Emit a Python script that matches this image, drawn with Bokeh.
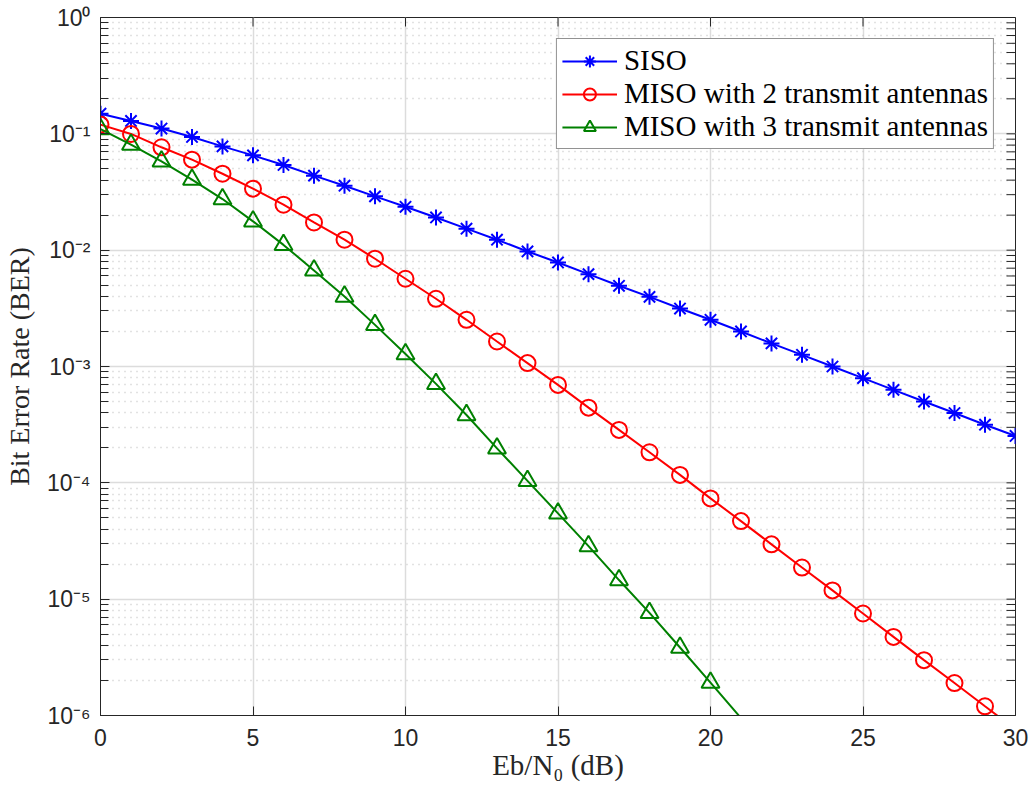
from bokeh.plotting import figure
from bokeh.models import (FixedTicker, Range1d, Legend, LegendItem,
                          ColumnDataSource, CustomJSTickFormatter)
from bokeh.embed import file_html
from bokeh.resources import INLINE

# ---------------- data ----------------
snr_siso = list(range(0, 31))
ber_siso = [0.149, 0.129, 0.111, 0.094, 0.078, 0.0653, 0.054, 0.0437, 0.0358, 0.029,
            0.0236, 0.0191, 0.0153, 0.0123, 0.00975, 0.00784, 0.00622, 0.00494, 0.00397, 0.00315,
            0.00252, 0.0020, 0.00158, 0.00126, 0.0010, 0.000794, 0.00063, 0.0005, 0.000398, 0.000316,
            0.000253]

snr_miso2 = list(range(0, 31))
ber_miso2 = [0.12, 0.0998, 0.0766, 0.060, 0.0454, 0.0338, 0.0246, 0.0173, 0.0123, 0.00844,
             0.00568, 0.00382, 0.00252, 0.00164, 0.00107, 0.000695, 0.000443, 0.000285, 0.000183, 0.000117,
             7.35e-5, 4.69e-5, 2.96e-5, 1.87e-5, 1.19e-5, 7.53e-6, 4.74e-6, 2.99e-6, 1.9e-6, 1.2e-6,
             7.6e-7]

snr_miso3 = list(range(0, 22))
ber_miso3 = [0.110, 0.0807, 0.058, 0.0404, 0.0275, 0.0177, 0.0111, 0.0067, 0.0040, 0.00228,
             0.00128, 0.000709, 0.000383, 0.000198, 0.000104, 5.46e-5, 2.86e-5, 1.46e-5, 7.62e-6, 3.84e-6,
             1.92e-6, 9.5e-7]

labels = ["SISO", "MISO with 2 transmit antennas", "MISO with 3 transmit antennas"]
x_label = "Eb/N₀ (dB)"
y_label = "Bit Error Rate (BER)"
x_ticks = [0, 5, 10, 15, 20, 25, 30]
y_ticks = [1e-6, 1e-5, 1e-4, 1e-3, 1e-2, 1e-1, 1e0]
y_minor = [m * 10.0 ** e for e in range(-6, 0) for m in range(2, 10)]

XMIN, XMAX = 0, 30
YMIN, YMAX = 1e-6, 1.0

AX = "#262626"
SANS = "Liberation Sans"
SERIF = "Liberation Serif"

W, H = 1029, 786
B_LEFT, B_RIGHT, B_TOP, B_BOTTOM = 100, 14, 17, 71
FRAME_W, FRAME_H = W - B_LEFT - B_RIGHT, H - B_TOP - B_BOTTOM

p = figure(width=W, height=H, y_axis_type="log",
           x_range=Range1d(XMIN, XMAX), y_range=Range1d(YMIN, YMAX),
           output_backend="svg", toolbar_location=None,
           min_border_left=B_LEFT, min_border_right=B_RIGHT,
           min_border_top=B_TOP, min_border_bottom=B_BOTTOM)
p.background_fill_color = "white"
p.border_fill_color = "white"
p.outline_line_color = AX
p.outline_line_width = 1

xtick = FixedTicker(ticks=x_ticks, minor_ticks=[])
ytick = FixedTicker(ticks=y_ticks, minor_ticks=y_minor)

fmt = CustomJSTickFormatter(code="""
const e = Math.round(Math.log10(tick));
const sup = {"-":"⁻","0":"⁰","1":"¹","2":"²","3":"³","4":"⁴","5":"⁵","6":"⁶","7":"⁷","8":"⁸","9":"⁹"};
return "10" + String(e).split("").map(c => sup[c]).join("");
""")

p.xaxis.ticker = xtick
p.yaxis.ticker = ytick
p.yaxis.formatter = fmt

for ax in p.axis:
    ax.axis_line_color = AX
    ax.axis_line_width = 1
    ax.major_tick_line_color = AX
    ax.minor_tick_line_color = AX
    ax.major_tick_in = 9
    ax.major_tick_out = 0
    ax.minor_tick_in = 8
    ax.minor_tick_out = 0
    ax.major_label_text_font = SANS
    ax.major_label_text_font_size = "23px"
    ax.major_label_text_color = AX
    ax.axis_label_text_font = SERIF
    ax.axis_label_text_font_style = "normal"
    ax.axis_label_text_color = AX

p.xaxis[0].major_label_standoff = 13
p.xaxis[0].axis_label = x_label
p.xaxis[0].axis_label_text_font_size = "29px"
p.xaxis[0].axis_label_standoff = 0
p.yaxis[0].major_label_standoff = 10
p.yaxis[0].axis_label = y_label
p.yaxis[0].axis_label_text_font_size = "28px"
p.yaxis[0].axis_label_standoff = 9

# tick marks of the box's top and right sides (taken from the tick lists)
tick_dx = 9 * (XMAX - XMIN) / FRAME_W
tick_fy = 10 ** (-9 * 6 / FRAME_H)
p.segment(x0=x_ticks, x1=x_ticks, y0=[YMAX] * len(x_ticks), y1=[YMAX * tick_fy] * len(x_ticks),
          line_color=AX, line_width=1)
right_ticks = y_ticks + y_minor
p.segment(x0=[XMAX] * len(right_ticks), x1=[XMAX - tick_dx] * len(right_ticks),
          y0=right_ticks, y1=right_ticks, line_color=AX, line_width=1)

# grid
p.xgrid.ticker = xtick
p.ygrid.ticker = ytick
p.xgrid.grid_line_color = "#dcdcdc"
p.ygrid.grid_line_color = "#dcdcdc"
p.xgrid.grid_line_width = 1.5
p.ygrid.grid_line_width = 1.5
p.ygrid.minor_grid_line_color = "#c4c4c4"
p.ygrid.minor_grid_line_dash = "1 5"
p.ygrid.minor_grid_line_width = 1.5

# series
series = [
    (snr_siso, ber_siso, "#0000ff", "asterisk", 16, labels[0]),
    (snr_miso2, ber_miso2, "#ff0000", "circle", 16, labels[1]),
    (snr_miso3, ber_miso3, "#008000", "triangle", 18, labels[2]),
]
items = []
for xs, ys, color, marker, size, lab in series:
    src = ColumnDataSource(dict(x=xs, y=ys))
    rl = p.line("x", "y", source=src, line_color=color, line_width=2)
    mx = [x for x, y in zip(xs, ys) if y >= YMIN]
    my = [y for y in ys if y >= YMIN]
    msrc = ColumnDataSource(dict(x=mx, y=my))
    rm = p.scatter("x", "y", source=msrc, marker=marker, size=size,
                   line_color=color, fill_color=None, line_width=2)
    items.append(LegendItem(label=lab, renderers=[rl, rm]))

legend = Legend(items=items, location="top_right", margin=21,
                label_text_font=SERIF, label_text_font_size="29px", label_text_color="black",
                glyph_width=55, glyph_height=30, label_standoff=7,
                padding=5, spacing=0,
                border_line_color=AX, border_line_width=1,
                background_fill_color="white", background_fill_alpha=1.0)
p.add_layout(legend)

open("out.html", "w").write(file_html(p, INLINE))
